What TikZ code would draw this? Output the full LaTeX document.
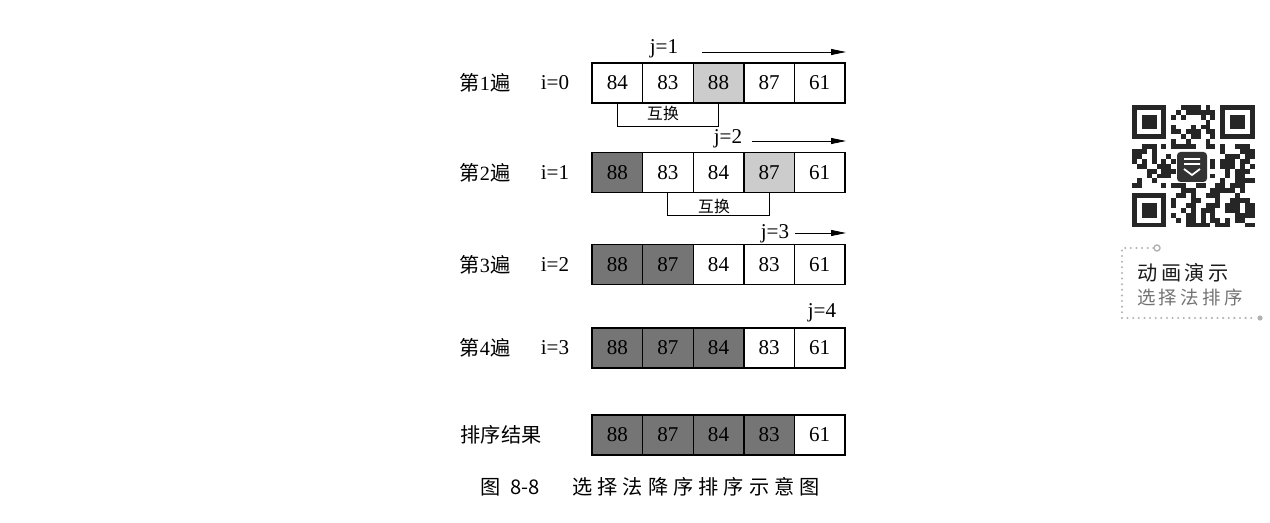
\documentclass[tikz,border=0pt]{standalone}
\usepackage{fontspec}
\setmainfont{Liberation Serif}
\newfontfamily\cjk{Noto Sans CJK SC}
\newfontfamily\cjkcap[LetterSpace=25]{Noto Sans CJK SC}
\newfontfamily\cjkqr[LetterSpace=18]{Noto Sans CJK SC}
\usetikzlibrary{arrows.meta}

\tikzset{
  cell/.style={draw, line width=0.8pt, minimum width=1.012cm, minimum height=0.8cm,
    inner sep=0pt, outer sep=0pt, font=\fontsize{12}{12}\selectfont},
  cand/.style={cell, fill=black!20},
  done/.style={cell, fill=black!54},
  pass/.style={font=\fontsize{11.5}{11.5}\selectfont},
  jlbl/.style={font=\fontsize{12}{12}\selectfont, inner sep=0pt},
  swap/.style={font=\cjk\fontsize{9}{9}\selectfont, inner sep=0pt},
  arr/.style={-{Stealth[length=8.5pt,width=3.4pt,inset=0pt]}, line width=0.5pt},
  brk/.style={line width=0.5pt},
  dots/.style={gray!60, line width=1.3pt, line cap=round, dash pattern=on 0pt off 3.2pt}
}
\newcommand{\passno}[1]{{\cjk 第}#1{\cjk 遍}}

\begin{document}
\begin{tikzpicture}[x=0.02cm, y=-0.02cm]
\useasboundingbox (0,0) rectangle (1270,523);

% rows of cells
\foreach \v/\s [count=\k] in {84/cell,83/cell,88/cand,87/cell,61/cell}
  \node[\s] (r1c\k) at (566.7+50.6*\k,83) {\v};
\foreach \v/\s [count=\k] in {88/done,83/cell,84/cell,87/cand,61/cell}
  \node[\s] (r2c\k) at (566.7+50.6*\k,172.5) {\v};
\foreach \v/\s [count=\k] in {88/done,87/done,84/cell,83/cell,61/cell}
  \node[\s] (r3c\k) at (566.7+50.6*\k,264.5) {\v};
\foreach \v/\s [count=\k] in {88/done,87/done,84/done,83/cell,61/cell}
  \node[\s] (r4c\k) at (566.7+50.6*\k,348) {\v};
\foreach \v/\s [count=\k] in {88/done,87/done,84/done,83/done,61/cell}
  \node[\s] (r5c\k) at (566.7+50.6*\k,435) {\v};

% pass labels
\node[pass] (p1) at (485,83) {\passno{1}};
\node[pass] (p2) at (485,172.5) {\passno{2}};
\node[pass] (p3) at (485,264.5) {\passno{3}};
\node[pass] (p4) at (485,348) {\passno{4}};
\node[pass] (p5) at (501,435) {\cjk 排序结果};
\node[jlbl] (i0) at (555,83) {i=0};
\node[jlbl] (i1) at (555,172.5) {i=1};
\node[jlbl] (i2) at (555,264.5) {i=2};
\node[jlbl] (i3) at (555,348) {i=3};

% j markers
\node[jlbl] (j1) at (664,49) {j=1};
\node[jlbl] (j2) at (728,139) {j=2};
\node[jlbl] (j3) at (775,234) {j=3};
\node[jlbl] (j4) at (822,313) {j=4};
\coordinate (a1s) at (702,52);
\coordinate (a1e) at (846,52);
\coordinate (a2s) at (752,141);
\coordinate (a2e) at (846,141);
\coordinate (a3s) at (795,233);
\coordinate (a3e) at (846,233);
\draw[arr] (a1s) -- (a1e);
\draw[arr] (a2s) -- (a2e);
\draw[arr] (a3s) -- (a3e);

% swaps
\draw[brk] (r1c1.south) -- ++(0,23) -| (r1c3.south);
\node[swap] (s1) at (663,113) {互换};
\draw[brk] (r2c2.south) -- ++(0,23) -| (r2c4.south);
\node[swap] (s2) at (714,206) {互换};

% caption
\node[font=\fontsize{11.5}{11.5}\selectfont] (cap) at (650,487)
  {{\cjk 图\hspace{0.5em}8-8}\hspace{1.6em}{\cjkcap 选择法降序排序示意图}};

% qr code
\pgfmathsetseed{11}
\foreach \u in {0,...,24}
  \foreach \w in {0,...,24} {
    \pgfmathrandominteger{\r}{0}{1}
    \pgfmathtruncatemacro\ok{(\r==1) && !((\u<8)&&(\w<8)) && !((\u>16)&&(\w<8))
      && !((\u<8)&&(\w>16)) && !((\u>8)&&(\u<16)&&(\w>8)&&(\w<16))}
    \ifnum\ok=1 \fill[black!85] (1132+\u*4.9,105+\w*4.9) rectangle ++(4.9,4.9); \fi
  }
\foreach \fx/\fy in {1132/105,1220.2/105,1132/193.2} {
  \fill[black!85] (\fx,\fy) rectangle ++(34.3,34.3);
  \fill[white] (\fx+4.9,\fy+4.9) rectangle ++(24.5,24.5);
  \fill[black!85] (\fx+9.8,\fy+9.8) rectangle ++(14.7,14.7);
}
\fill[black!80, rounded corners=2pt] (1177,152) rectangle (1207,182);
\draw[white, line width=1pt] (1184,159) -- (1200,159) (1184,164) -- (1200,164)
  (1184,169) -- (1192,175) -- (1200,169);

% demo note
\node[circle, draw=gray!60, line width=0.8pt, minimum size=0.12cm, inner sep=0pt] (qo) at (1157,248) {};
\coordinate (qa) at (1122,248);
\coordinate (qb) at (1122,318);
\coordinate (qc) at (1255,318);
\draw[dots] (qo.west) -- (qa) -- (qb) -- (qc);
\fill[gray!60] (1260,318) circle (2.6);
\node[font=\cjkqr\fontsize{11.5}{11.5}\selectfont, text=black!90, anchor=west] (qt1) at (1131,273) {动画演示};
\node[font=\cjkqr\fontsize{10.5}{10.5}\selectfont, text=black!55, anchor=west] (qt2) at (1131,297) {选择法排序};
\end{tikzpicture}
\end{document}
